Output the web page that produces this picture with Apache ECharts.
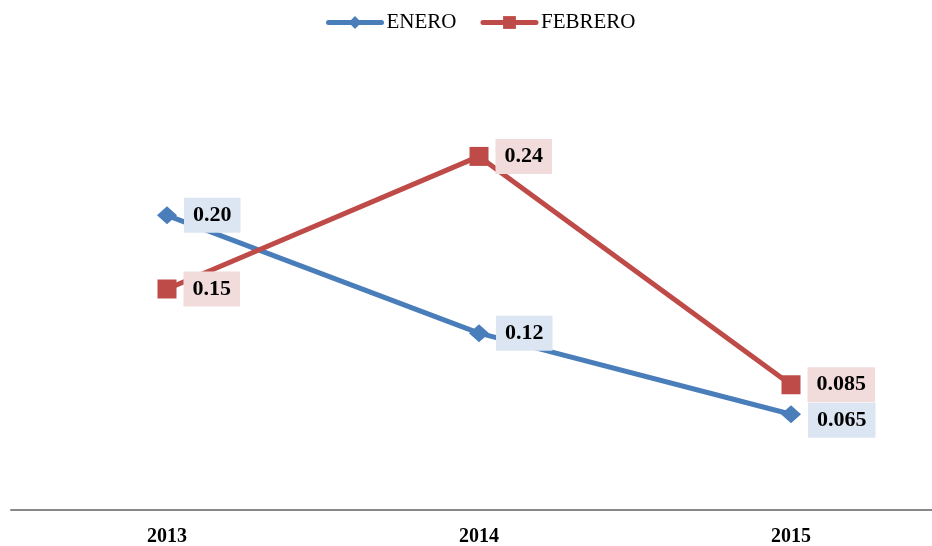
<!DOCTYPE html>
<html>
<head>
<meta charset="utf-8">
<script src="https://cdn.jsdelivr.net/npm/echarts@6/dist/echarts.min.js"></script>
<style>html,body{margin:0;padding:0;background:#fff}#c{width:932px;height:546px}</style>
</head>
<body>
<div id="c"></div>
<script>
const categories = ['2013', '2014', '2015'];
const enero = [0.20, 0.12, 0.065];
const febrero = [0.15, 0.24, 0.085];
const eneroLabels = ['0.20', '0.12', '0.065'];
const febreroLabels = ['0.15', '0.24', '0.085'];

const chart = echarts.init(document.getElementById('c'));
const serif = '"Liberation Serif", "Times New Roman", serif';
const blue = '#4a7ebb', red = '#be4b48';
function labelCfg(bg, texts) {
  return {
    show: true, position: 'right', distance: 7,
    fontFamily: serif, fontWeight: 'bold', fontSize: 22, color: '#000',
    backgroundColor: bg, padding: [7, 9, 6, 9],
    formatter: p => texts[p.dataIndex]
  };
}
chart.setOption({
  animation: false,
  legend: {
    top: 7, left: 321, itemWidth: 53, itemHeight: 16, itemGap: 24,
    textStyle: { fontFamily: serif, fontSize: 21, color: '#000' },
    data: [
      { name: 'ENERO', lineStyle: { width: 5, cap: 'round' } },
      { name: 'FEBRERO', lineStyle: { width: 5, cap: 'round' } }
    ]
  },
  grid: { left: 11, width: 936, top: 68, bottom: 36, outerBoundsMode: 'none', containLabel: false },
  xAxis: {
    type: 'category', data: categories, boundaryGap: true,
    axisLine: { lineStyle: { color: '#888', width: 2 } },
    axisTick: { show: false },
    axisLabel: { fontFamily: serif, fontWeight: 'bold', fontSize: 20, color: '#000', margin: 17 }
  },
  yAxis: { type: 'value', min: 0, max: 0.3, show: false, splitLine: { show: false } },
  series: [
    {
      name: 'ENERO', type: 'line', data: enero,
      symbol: 'diamond', symbolSize: [20, 18],
      lineStyle: { color: blue, width: 5 },
      itemStyle: { color: blue },
      label: labelCfg('#dce6f2', eneroLabels),
      labelLayout: p => p.dataIndex === 2 ? { dy: 6 } : {}
    },
    {
      name: 'FEBRERO', type: 'line', data: febrero,
      symbol: 'rect', symbolSize: 19,
      lineStyle: { color: red, width: 5 },
      itemStyle: { color: red },
      label: labelCfg('#f2dcdb', febreroLabels)
    }
  ]
});
</script>
</body>
</html>
